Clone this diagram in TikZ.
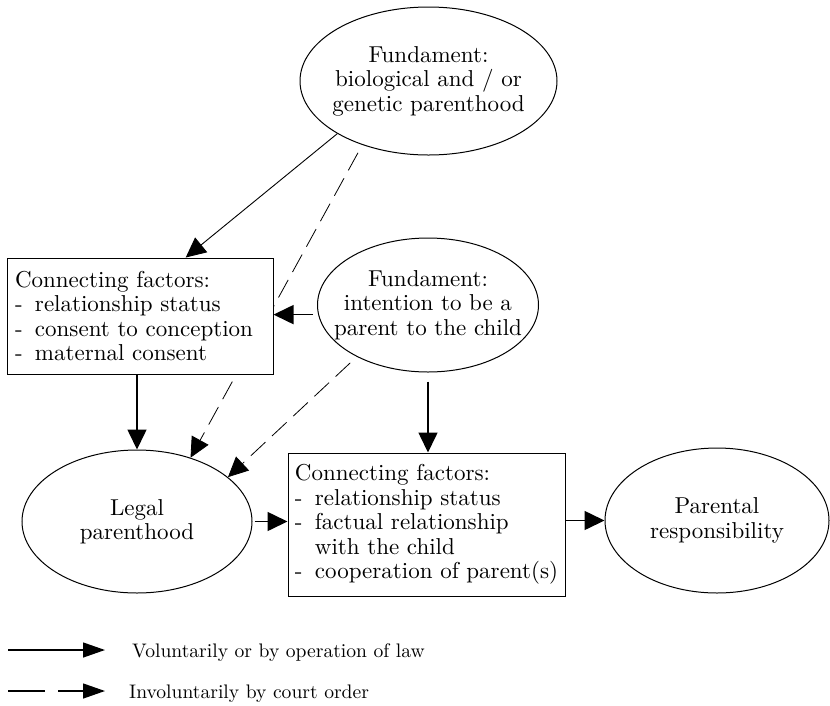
\documentclass[tikz,border=0pt]{standalone}
\usepackage{fontspec}
\setmainfont{lmroman10-regular}[Extension=.otf]
\usepackage{tikz}
\usetikzlibrary{shapes.geometric,arrows.meta,backgrounds}

\newcommand{\itm}{\makebox[20pt][l]{-}}

\begin{document}
\begin{tikzpicture}[x=1pt,y=-1pt,
  txt/.style={font=\fontsize{23}{24.5}\selectfont},
  fund/.style={draw,ellipse,line width=1pt,inner sep=0pt},
  inside/.style={txt,align=center,inner sep=0pt},
  factors/.style={draw,rectangle,fill=white,line width=1pt,txt,align=left,inner xsep=8pt,inner ysep=0pt},
  legtxt/.style={font=\fontsize{19.6}{22}\selectfont,inner sep=0pt},
  tip/.style={-{Triangle[length=20pt,width=19pt]}},
  lgtip/.style={-{Triangle[length=22pt,width=15pt]}},
  law/.style={tip,line width=1.6pt},
  lawthin/.style={tip,line width=0.9pt},
  court/.style={tip,line width=0.8pt,dash pattern=on 20pt off 9pt}]

\useasboundingbox (0,0) rectangle (830,705);

\node[fund,minimum width=257pt,minimum height=148pt,
  label={[inside]center:{Fundament:\\biological and / or\\genetic parenthood}}] (bio) at (428.5,81) {};

\node[factors,text width=250pt,minimum height=116pt] (conn1) at (140,316)
  {Connecting factors:\\\itm relationship status\\\itm consent to conception\\\itm maternal consent};

\node[fund,minimum width=221pt,minimum height=134pt,
  label={[inside]center:{Fundament:\\intention to be a\\parent to the child}}] (intent) at (428,305) {};

\node[fund,minimum width=230pt,minimum height=143pt,
  label={[inside]center:{Legal\\parenthood}}] (legal) at (137,521.5) {};

\node[factors,inner xsep=5pt,minimum width=277pt,minimum height=143pt] (conn2) at (426.5,524.5)
  {Connecting factors:\\\itm relationship status\\\itm factual relationship\\\hspace*{20pt}with the child\\\itm cooperation of parent(s)};

\node[fund,minimum width=224pt,minimum height=145pt,
  label={[inside]center:{Parental\\responsibility}}] (parent) at (717,520.5) {};

% behind the first box
\begin{scope}[on background layer]
\draw[court,shorten <=9pt] (bio.224) -- (legal.50);
\end{scope}

\draw[lawthin] (bio.210) -- (conn1.52);
\draw[law,shorten <=5pt] (intent.185) -- (intent.185 -| conn1.east);
\draw[law] (conn1.south -| legal.north) -- (legal.north);
\draw[court,shorten <=9pt] (intent.216) -- (legal.26);
\draw[law,shorten <=9pt] (intent.south) -- (intent.south |- conn2.north);
\draw[law,shorten <=2pt] (legal.east) -- (legal.east -| conn2.west);
\draw[law] (conn2.east |- parent.west) -- (parent.west);

% legend
\coordinate (volA) at (8,650);
\coordinate (volB) at (105,650);
\draw[lgtip,line width=1.3pt] (volA) -- (volB);
\node[legtxt,anchor=base west] (voltxt) at (132,657) {Voluntarily or by operation of law};

\coordinate (invA) at (8,691);
\coordinate (invB) at (105,691);
\draw[lgtip,line width=1.3pt,dash pattern=on 37pt off 13pt on 100pt] (invA) -- (invB);
\node[legtxt,anchor=base west] (invtxt) at (129,698) {Involuntarily by court order};

\end{tikzpicture}
\end{document}
